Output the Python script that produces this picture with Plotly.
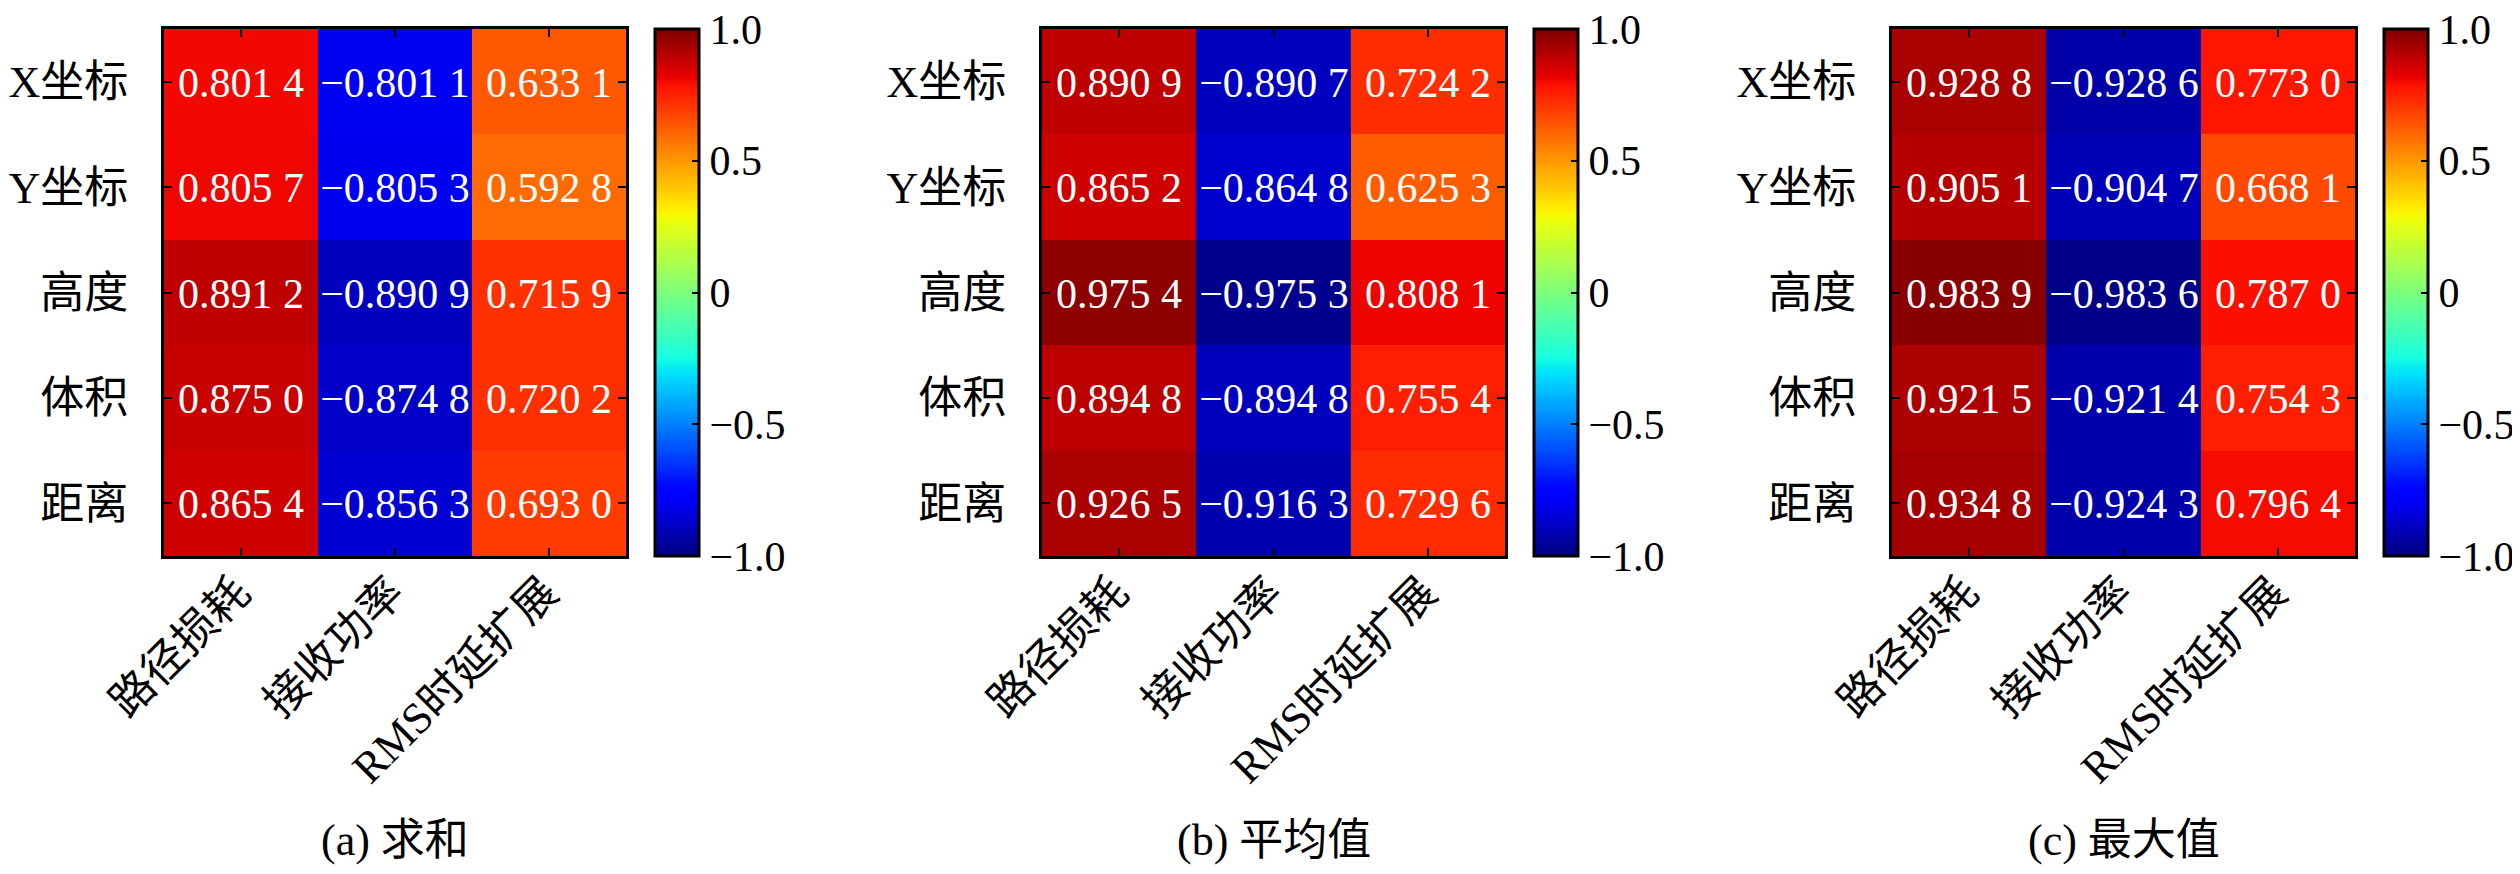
import numpy as np
import plotly.graph_objects as go

rows = ["X坐标", "Y坐标", "高度", "体积", "距离"]
cols = ["路径损耗", "接收功率", "RMS时延扩展"]

sum_vals = [
    [0.8014, -0.8011, 0.6331],
    [0.8057, -0.8053, 0.5928],
    [0.8912, -0.8909, 0.7159],
    [0.8750, -0.8748, 0.7202],
    [0.8654, -0.8563, 0.6930],
]
mean_vals = [
    [0.8909, -0.8907, 0.7242],
    [0.8652, -0.8648, 0.6253],
    [0.9754, -0.9753, 0.8081],
    [0.8948, -0.8948, 0.7554],
    [0.9265, -0.9163, 0.7296],
]
max_vals = [
    [0.9288, -0.9286, 0.7730],
    [0.9051, -0.9047, 0.6681],
    [0.9839, -0.9836, 0.7870],
    [0.9215, -0.9214, 0.7543],
    [0.9348, -0.9243, 0.7964],
]
captions = ["(a) 求和", "(b) 平均值", "(c) 最大值"]

cbar_ticks = [-1.0, -0.5, 0.0, 0.5, 1.0]
cbar_labels = ["−1.0", "−0.5", "0", "0.5", "1.0"]

W, H = 2520, 874
FONT = "Liberation Serif, Noto Sans CJK SC"


# matplotlib "jet" built from its segment data
def jet_scale(n=101):
    r = ([0, 0.35, 0.66, 0.89, 1], [0, 0, 1, 1, 0.5])
    g = ([0, 0.125, 0.375, 0.64, 0.91, 1], [0, 0, 1, 1, 0, 0])
    b = ([0, 0.11, 0.34, 0.65, 1], [0.5, 1, 1, 0, 0])
    out = []
    for t in np.linspace(0, 1, n):
        rr = np.interp(t, *r) * 255
        gg = np.interp(t, *g) * 255
        bb = np.interp(t, *b) * 255
        out.append([float(t), f"rgb({rr:.0f},{gg:.0f},{bb:.0f})"])
    return out


def fmt(v):
    s = f"{v:.4f}"
    return (s[:-1] + " " + s[-1]).replace("-", "−")


# pixel boxes: heatmap left/right, colorbar left
heat_x = [(156, 618), (1034, 1497), (1884, 2347)]
cbar_x = [647, 1526, 2376]
top_px, bot_px = 21, 548
y_dom = [1 - bot_px / H, 1 - top_px / H]

fig = go.Figure()
jet = jet_scale()

for i, vals in enumerate([sum_vals, mean_vals, max_vals]):
    text = [[fmt(v) for v in r] for r in vals]
    sfx = "" if i == 0 else str(i + 1)
    fig.add_trace(
        go.Heatmap(
            z=vals,
            x=cols,
            y=rows,
            text=text,
            texttemplate="%{text}",
            textfont=dict(family=FONT, size=42, color="white"),
            colorscale=jet,
            zmin=-1,
            zmax=1,
            xaxis="x" + sfx,
            yaxis="y" + sfx,
            colorbar=dict(
                x=cbar_x[i] / W,
                xanchor="left",
                xpad=0,
                ypad=0,
                y=y_dom[0],
                yanchor="bottom",
                len=y_dom[1] - y_dom[0],
                lenmode="fraction",
                thickness=44,
                thicknessmode="pixels",
                outlinewidth=3,
                outlinecolor="black",
                tickvals=cbar_ticks,
                ticktext=cbar_labels,
                ticks="inside",
                ticklen=8,
                tickwidth=2,
                tickcolor="black",
                ticklabeloverflow="allow",
                tickfont=dict(family=FONT, size=42, color="black"),
            ),
            hoverinfo="skip",
        )
    )
    x0, x1 = heat_x[i]
    axis_common = dict(
        showline=True,
        linecolor="black",
        linewidth=3,
        mirror="ticks",
        ticks="inside",
        ticklen=8,
        tickwidth=2,
        tickcolor="black",
        showgrid=False,
        zeroline=False,
        automargin=False,
        tickfont=dict(family=FONT, size=44, color="black"),
    )
    fig.layout["xaxis" + sfx] = dict(
        domain=[x0 / W, x1 / W],
        anchor="y" + sfx,
        tickangle=-45,
        ticklabelstandoff=-10,
        ticklabelshift=-4,
        **axis_common,
    )
    fig.layout["yaxis" + sfx] = dict(
        domain=y_dom,
        anchor="x" + sfx,
        autorange="reversed",
        ticklabelstandoff=24,
        **axis_common,
    )
    fig.add_annotation(
        x=(x0 + x1) / 2 / W,
        y=1 - 832 / H,
        xref="paper",
        yref="paper",
        text=captions[i],
        showarrow=False,
        xanchor="center",
        yanchor="middle",
        font=dict(family=FONT, size=44, color="black"),
    )

fig.update_layout(
    width=W,
    height=H,
    margin=dict(l=0, r=0, t=0, b=0, autoexpand=False),
    paper_bgcolor="white",
    plot_bgcolor="white",
    showlegend=False,
)

fig.write_html("out.html")
